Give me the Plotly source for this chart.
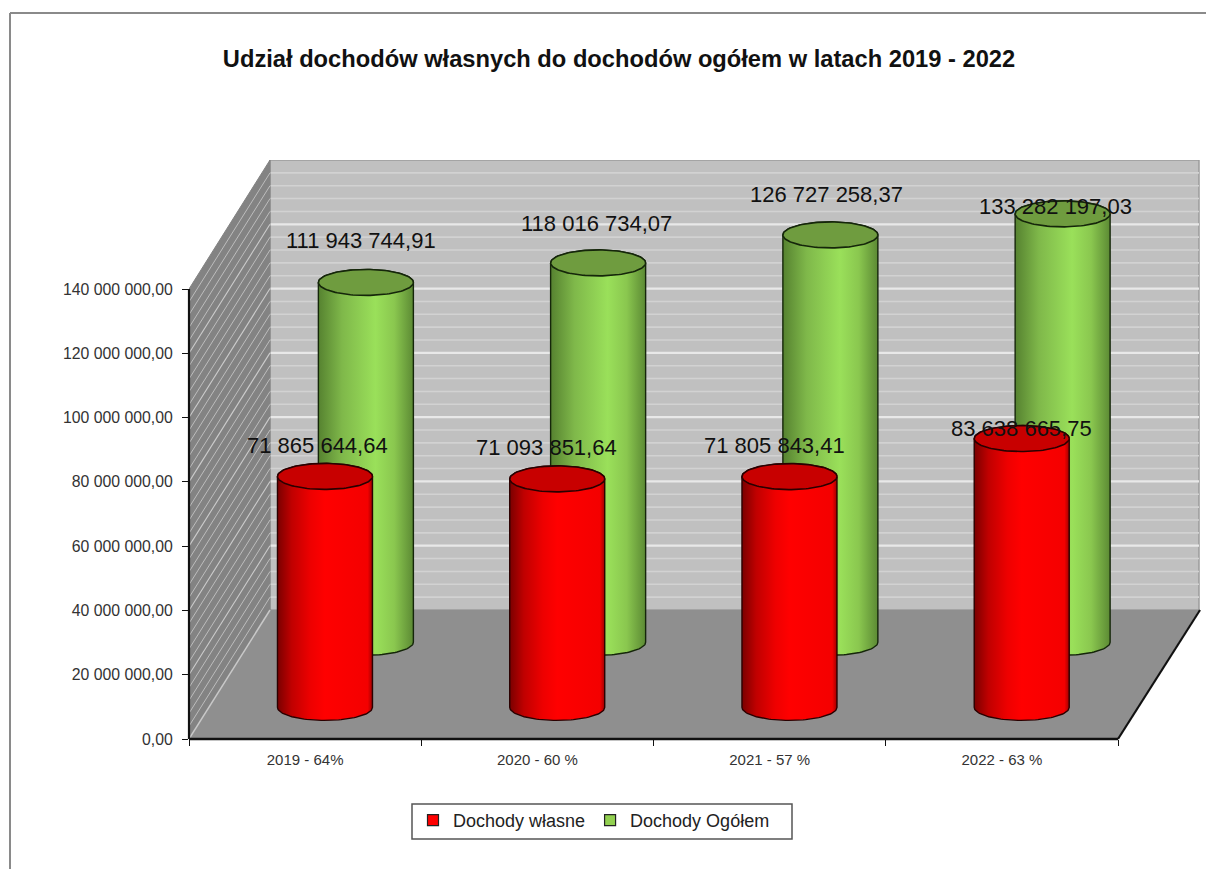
import numpy as np
import plotly.graph_objects as go

TITLE = "Udział dochodów własnych do dochodów ogółem w latach 2019 - 2022"
categories = ["2019 - 64%", "2020 - 60 %", "2021 - 57 %", "2022 - 63 %"]
own_income = [71865644.64, 71093851.64, 71805843.41, 83638665.75]
total_income = [111943744.91, 118016734.07, 126727258.37, 133282197.03]
own_labels = ["71 865 644,64", "71 093 851,64", "71 805 843,41", "83 638 665,75"]
total_labels = ["111 943 744,91", "118 016 734,07", "126 727 258,37", "133 282 197,03"]
y_ticks = [0, 20e6, 40e6, 60e6, 80e6, 100e6, 120e6, 140e6]
y_ticktext = ["0,00", "20 000 000,00", "40 000 000,00", "60 000 000,00",
              "80 000 000,00", "100 000 000,00", "120 000 000,00", "140 000 000,00"]
own_shift = [(-7, 31), (-11, 31), (-15, 31), (0, 10)]        # label nudges, px
total_shift = [(-5, 42), (-2, 39), (-4, 40), (-7, 7)]

# frame geometry (pixels)
W, H = 1206, 869
L, R, T, B = 189, 1200, 160, 739
CAT_PX = 232.25
PX_PER_UNIT = 450 / 140e6
DEPTH_X = 81 / CAT_PX
DEPTH_Y = 129 / PX_PER_UNIT
X_MAX = (R - L) / CAT_PX
Y_MAX = (B - T) / PX_PER_UNIT
TOP = 140e6
RX = 47.5 / CAT_PX
RY = 13 / PX_PER_UNIT
N = len(categories)
FONT = "Arial, Liberation Sans, sans-serif"

fig = go.Figure()


def poly(xs, ys, fill, line=None, width=0, **kw):
    fig.add_trace(go.Scatter(x=xs, y=ys, mode="lines", fill="toself", fillcolor=fill,
                             line=dict(color=line or fill, width=width),
                             hoverinfo="skip", showlegend=False, **kw))


def seg(xs, ys, color, width):
    fig.add_trace(go.Scatter(x=xs, y=ys, mode="lines", line=dict(color=color, width=width),
                             hoverinfo="skip", showlegend=False))


# back wall
poly([DEPTH_X, N + DEPTH_X, N + DEPTH_X, DEPTH_X, DEPTH_X],
     [DEPTH_Y, DEPTH_Y, DEPTH_Y + TOP, DEPTH_Y + TOP, DEPTH_Y], "#c0c0c0", "#9a9a9a", 1.5)
for v in np.arange(4e6, TOP, 4e6):
    major = abs(v % 20e6) < 1
    seg([DEPTH_X, N + DEPTH_X], [DEPTH_Y + v, DEPTH_Y + v],
        "#e8e8e8" if major else "#d2d2d2", 2.2 if major else 1.6)

# side wall with gridlines running front-to-back
poly([0, DEPTH_X, DEPTH_X, 0, 0], [0, DEPTH_Y, DEPTH_Y + TOP, TOP, 0], "#838383", "#838383", 1)
for v in np.arange(4e6, TOP, 4e6):
    major = abs(v % 20e6) < 1
    seg([0, DEPTH_X], [v, v + DEPTH_Y], "#cccccc" if major else "#bdbdbd", 1.1 if major else 1.0)

# floor
poly([0, DEPTH_X, N + DEPTH_X, N, 0], [0, DEPTH_Y, DEPTH_Y, 0, 0], "#8f8f8f")
seg([0, DEPTH_X], [0, DEPTH_Y], "#c8c8c8", 1.5)


def cylinder(center, value, depth, body_scale, top_scale, top_line):
    cx = center + DEPTH_X * depth
    base = DEPTH_Y * depth
    t = np.linspace(0, np.pi, 60)
    xs = np.r_[cx - RX * np.cos(t), cx + RX * np.cos(t)]
    ys = np.r_[base - RY * np.sin(t), base + value + RY * np.sin(t)]
    xs = np.r_[xs, xs[0]]
    ys = np.r_[ys, ys[0]]
    poly(xs, ys, "#000000", top_line, 1.4,
         fillgradient=dict(type="horizontal", colorscale=body_scale))
    th = np.linspace(0, 2 * np.pi, 120)
    poly(cx + RX * np.cos(th), base + value + RY * np.sin(th), top_scale, top_line, 1.6)
    return cx, base + value


GREEN = [[0, "#568230"], [0.25, "#7fb84a"], [0.6, "#9ae05a"], [0.8, "#8ac74f"], [1, "#5c8a34"]]
RED = [[0, "#7a0000"], [0.15, "#c00000"], [0.35, "#ee0000"], [0.5, "#ff0000"],
       [0.95, "#f40000"], [1, "#a00000"]]

annotations = []
for i in range(N):
    cx, top = cylinder(i + 0.5, total_income[i], 0.75, GREEN, "#6f9c3f", "#15260a")
    annotations.append(dict(x=cx, y=top, text=total_labels[i], xshift=total_shift[i][0],
                            yshift=total_shift[i][1]))
for i in range(N):
    cx, top = cylinder(i + 0.5, own_income[i], 0.245, RED, "#c80000", "#2a0000")
    annotations.append(dict(x=cx, y=top, text=own_labels[i], xshift=own_shift[i][0],
                            yshift=own_shift[i][1]))
for a in annotations:
    a.update(xref="x", yref="y", showarrow=False, xanchor="center", yanchor="middle",
             font=dict(family=FONT, size=22, color="#111111"))

# legend entries
for name, color in [("Dochody własne", "#ff0000"), ("Dochody Ogółem", "#92d050")]:
    fig.add_trace(go.Scatter(x=[None], y=[None], mode="markers", name=name,
                             marker=dict(symbol="square", size=11, color=color,
                                         line=dict(color="#222222", width=1.2))))


def px(v):
    return (v - L) / (R - L)


def py(v):
    return (B - v) / (B - T)


AXIS = dict(type="line", xref="paper", yref="paper", layer="above")
fig.update_layout(
    width=W, height=H, autosize=False,
    margin=dict(l=L, r=W - R, t=T, b=H - B),
    paper_bgcolor="white", plot_bgcolor="white",
    hovermode=False,
    font=dict(family=FONT, color="#333333"),
    title=dict(text="<b>" + TITLE + "</b>", xref="container", yref="container",
               x=619 / W, y=1 - 59 / H, xanchor="center", yanchor="middle",
               font=dict(family=FONT, size=23.7, color="#111111")),
    xaxis=dict(range=[0, X_MAX], tickmode="array",
               tickvals=[i + 0.5 for i in range(N)], ticktext=categories,
               showgrid=False, zeroline=False, showline=False,
               ticks="outside", ticklen=7, tickwidth=0, tickcolor="rgba(0,0,0,0)",
               tickfont=dict(family=FONT, size=15, color="#333333"),
               minor=dict(tickmode="array", tickvals=list(range(N + 1)), ticks="outside",
                          ticklen=6, tickwidth=1.2, tickcolor="#111111", showgrid=False)),
    yaxis=dict(range=[0, Y_MAX], tickmode="array", tickvals=y_ticks, ticktext=y_ticktext,
               showgrid=False, zeroline=False, showline=False,
               ticks="outside", ticklen=6, tickwidth=1.2, tickcolor="#111111",
               ticklabelstandoff=6,
               tickfont=dict(family=FONT, size=15.8, color="#333333")),
    legend=dict(orientation="h", x=px(413), y=py(802), xanchor="left", yanchor="top",
                bgcolor="rgba(0,0,0,0)", borderwidth=0,
                font=dict(family=FONT, size=18, color="#222222")),
    annotations=annotations,
    shapes=[
        # outer frame
        dict(type="line", xref="paper", yref="paper", x0=px(10), x1=px(10), y0=py(13), y1=py(869),
             line=dict(color="#8a8a8a", width=2), layer="below"),
        dict(type="line", xref="paper", yref="paper", x0=px(10), x1=px(1206), y0=py(13), y1=py(13),
             line=dict(color="#8a8a8a", width=2), layer="below"),
        # legend box
        dict(type="rect", xref="paper", yref="paper", x0=px(412), x1=px(792), y0=py(839), y1=py(804),
             line=dict(color="#555555", width=1.5), fillcolor="white", layer="below"),
        # axis lines (value axis, category axis, right floor edge)
        dict(AXIS, x0=0, x1=0, y0=0, y1=TOP / Y_MAX, line=dict(color="#111111", width=2.2)),
        dict(AXIS, x0=0, x1=N / X_MAX, y0=0, y1=0, line=dict(color="#111111", width=2.6)),
        dict(AXIS, x0=N / X_MAX, x1=1, y0=0, y1=DEPTH_Y / Y_MAX, line=dict(color="#111111", width=2.2)),
    ],
)

fig.write_html("out.html", config={"displayModeBar": False},
               post_script="document.body.style.margin='0';")
